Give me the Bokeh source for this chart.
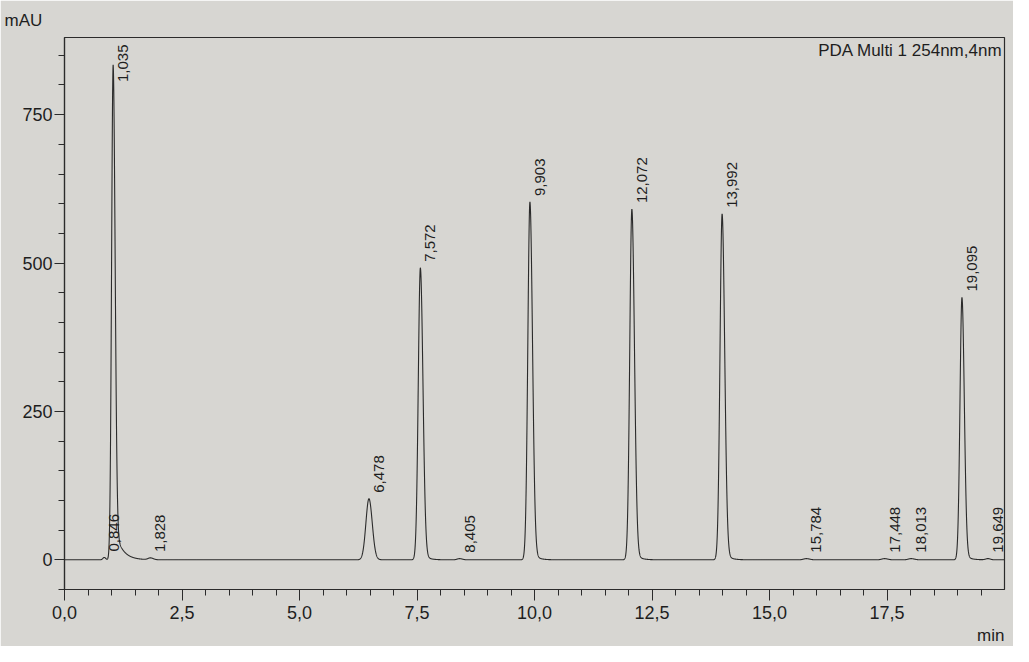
import numpy as np
from bokeh.plotting import figure
from bokeh.models import Range1d, FixedTicker, CustomJSTickFormatter, Label, ColumnDataSource, Title
from bokeh.embed import file_html
from bokeh.resources import INLINE
from bokeh.core.properties import value

# ---- peak table (retention time in min, height in mAU) ----
peak_rt = [0.846, 1.035, 1.828, 6.478, 7.572, 8.405, 9.903, 12.072, 13.992, 15.784, 17.448, 18.013, 19.095, 19.649]
peak_height = [4, 834, 3, 103, 492, 2, 603, 591, 583, 2, 2, 2, 442, 2]
peak_sigma_front = [0.03, 0.033, 0.05, 0.065, 0.045, 0.05, 0.045, 0.045, 0.045, 0.06, 0.06, 0.06, 0.042, 0.05]
peak_sigma_back = [0.03, 0.042, 0.06, 0.07, 0.055, 0.06, 0.055, 0.055, 0.055, 0.07, 0.07, 0.07, 0.05, 0.05]
peak_tail_frac = [0.0, 0.08, 0.0, 0.02, 0.035, 0.0, 0.035, 0.035, 0.035, 0.0, 0.0, 0.0, 0.035, 0.0]
peak_tail_tau = [0.1, 0.15, 0.1, 0.1, 0.1, 0.1, 0.1, 0.1, 0.1, 0.1, 0.1, 0.1, 0.1, 0.1]
peak_labels = ["0,846", "1,035", "1,828", "6,478", "7,572", "8,405", "9,903",
               "12,072", "13,992", "15,784", "17,448", "18,013", "19,095", "19,649"]

# ---- axes ----
x_ticks = [0.0, 2.5, 5.0, 7.5, 10.0, 12.5, 15.0, 17.5]
x_tick_labels = ["0,0", "2,5", "5,0", "7,5", "10,0", "12,5", "15,0", "17,5"]
x_minor_ticks = [i * 0.5 for i in range(40)]
y_ticks = [0, 250, 500, 750]
y_tick_labels = ["0", "250", "500", "750"]
y_minor_ticks = [-50 + 50 * i for i in range(19)]
x_min, x_max = 0.0, 20.0
y_min, y_max = -50.0, 880.0

detector_label = "PDA Multi 1 254nm,4nm"
y_unit = "mAU"
x_unit = "min"

# ---- build the trace from the peak table ----
t = np.linspace(x_min, x_max, 12001)
signal = np.zeros_like(t)
for rt, h, sf, sb, a, tau in zip(peak_rt, peak_height, peak_sigma_front,
                                  peak_sigma_back, peak_tail_frac, peak_tail_tau):
    d = t - rt
    front = h * np.exp(-0.5 * (d / sf) ** 2)
    back = h * ((1 - a) * np.exp(-0.5 * (d / sb) ** 2) + a * np.exp(-np.clip(d, 0, None) / tau))
    signal += np.where(d < 0, front, back)

label_y = [min(h + 10, y_max - 75) for h in peak_height]

ink = "#2b2b2b"
paper = "#d7d6d2"
font = "Liberation Sans"

p = figure(width=1013, height=646, output_backend="svg", toolbar_location=None,
           x_range=Range1d(x_min, x_max), y_range=Range1d(y_min, y_max),
           min_border_left=64, min_border_right=9, min_border_top=10, min_border_bottom=6)
p.background_fill_color = paper
p.border_fill_color = paper
p.outline_line_color = ink
p.outline_line_width = 1.2
p.xgrid.visible = False
p.ygrid.visible = False

p.line(t, signal, line_color=ink, line_width=1.1)

src = ColumnDataSource(dict(x=peak_rt, y=label_y, text=peak_labels))
p.text(x="x", y="y", text="text", source=src, angle=np.pi / 2,
       text_align="left", text_baseline="top", x_offset=5,
       text_font=value(font), text_font_size="15px", text_color="#1e1e1e")

# x axis
xa = p.xaxis[0]
xa.ticker = FixedTicker(ticks=x_ticks, minor_ticks=x_minor_ticks)
xa.formatter = CustomJSTickFormatter(args=dict(vals=x_ticks, labs=x_tick_labels),
                                     code="const i = vals.indexOf(tick); return i >= 0 ? labs[i] : '';")
xa.major_tick_out = 11
xa.major_tick_in = 0
xa.minor_tick_out = 6
xa.minor_tick_in = 0
xa.major_label_standoff = 5
# y axis
ya = p.yaxis[0]
ya.ticker = FixedTicker(ticks=y_ticks, minor_ticks=y_minor_ticks)
ya.formatter = CustomJSTickFormatter(args=dict(vals=y_ticks, labs=y_tick_labels),
                                     code="const i = vals.indexOf(tick); return i >= 0 ? labs[i] : '';")
ya.major_tick_out = 10
ya.major_tick_in = 0
ya.minor_tick_out = 6
ya.minor_tick_in = 0
ya.major_label_standoff = 2
for ax in (xa, ya):
    ax.axis_line_color = ink
    ax.axis_line_width = 1.2
    ax.major_tick_line_color = ink
    ax.minor_tick_line_color = ink
    ax.major_label_text_font = font
    ax.major_label_text_font_size = "18px"
    ax.major_label_text_color = "#1e1e1e"

p.add_layout(Label(x=x_max, y=y_max, text=detector_label, text_align="right", text_baseline="top",
                   x_offset=-2, y_offset=-3, text_font=font, text_font_size="17px", text_color="#1e1e1e"))

top_title = Title(text=y_unit, align="left", offset=-60, standoff=16, text_font=font,
                  text_font_size="17px", text_font_style="normal", text_color="#1e1e1e")
p.add_layout(top_title, "above")
bottom_title = Title(text=x_unit, align="right", offset=0, standoff=4, text_font=font,
                     text_font_size="17px", text_font_style="normal", text_color="#1e1e1e")
p.add_layout(bottom_title, "below")

open("out.html", "w").write(file_html(p, INLINE))
